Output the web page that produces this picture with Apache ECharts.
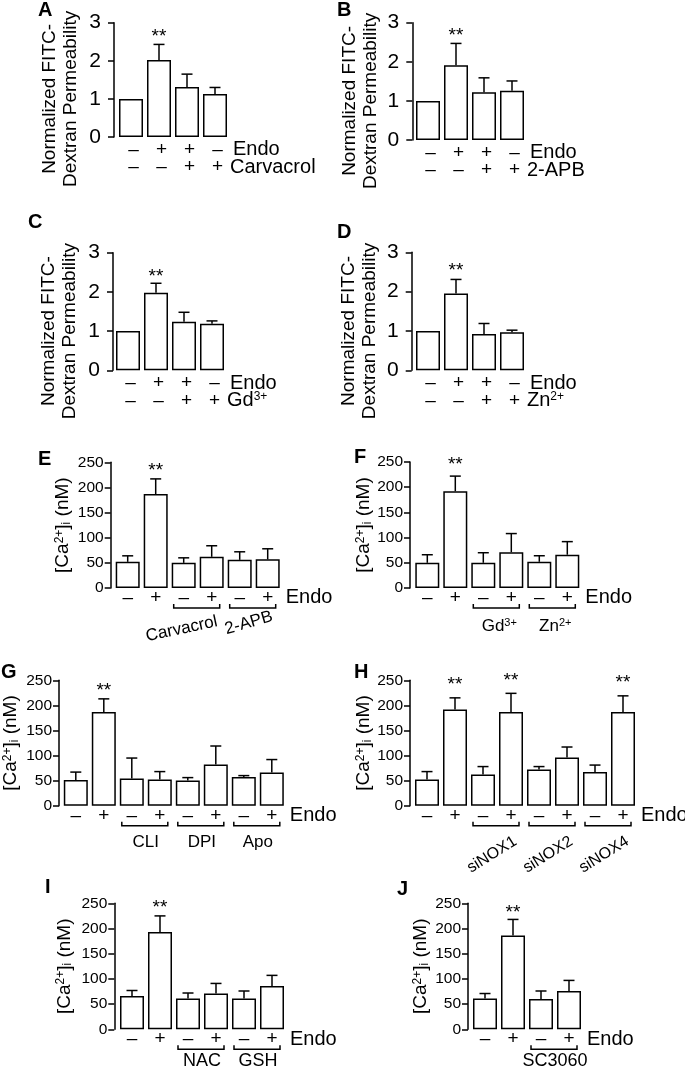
<!DOCTYPE html>
<html><head><meta charset="utf-8">
<script src="https://cdn.jsdelivr.net/npm/echarts@6/dist/echarts.min.js"></script>
<style>html,body{margin:0;padding:0;background:#fff}#c{width:685px;height:1071px}</style>
</head><body><div id="c"></div>
<script>
const FONT = '"Liberation Sans", Arial, Helvetica, sans-serif';

// ---------- tick labels ----------
const permTicks = [0, 1, 2, 3];
const caTicks = [0, 50, 100, 150, 200, 250];

// ---------- Panel A ----------
const A_endo = ['–', '+', '+', '–'];
const A_drug = ['–', '–', '+', '+'];
const A_mean = [1.00, 2.02, 1.31, 1.13];
const A_sem  = [0, 0.41, 0.34, 0.17];
const A_sig  = [1];
// ---------- Panel B ----------
const B_endo = ['–', '+', '+', '–'];
const B_drug = ['–', '–', '+', '+'];
const B_mean = [1.00, 1.91, 1.22, 1.26];
const B_sem  = [0, 0.56, 0.37, 0.25];
const B_sig  = [1];
// ---------- Panel C ----------
const C_endo = ['–', '+', '+', '–'];
const C_drug = ['–', '–', '+', '+'];
const C_mean = [1.00, 1.98, 1.24, 1.19];
const C_sem  = [0, 0.24, 0.24, 0.07];
const C_sig  = [1];
// ---------- Panel D ----------
const D_endo = ['–', '+', '+', '–'];
const D_drug = ['–', '–', '+', '+'];
const D_mean = [1.00, 1.95, 0.92, 0.97];
const D_sem  = [0, 0.36, 0.27, 0.05];
const D_sig  = [1];
// ---------- Panel E ----------
const E_endo = ['–', '+', '–', '+', '–', '+'];
const E_mean = [52, 187, 50, 62, 56, 57];
const E_sem  = [12, 30, 10, 22, 16, 21];
const E_sig  = [1];
const E_groups = ['Carvacrol', '2-APB'];
// ---------- Panel F ----------
const F_endo = ['–', '+', '–', '+', '–', '+'];
const F_mean = [50, 192, 50, 71, 52, 66];
const F_sem  = [16, 30, 20, 37, 12, 26];
const F_sig  = [1];
const F_groups = ['Gd{s|3+}', 'Zn{s|2+}'];
// ---------- Panel G ----------
const G_endo = ['–', '+', '–', '+', '–', '+', '–', '+'];
const G_mean = [51, 187, 54, 52, 50, 82, 57, 66];
const G_sem  = [16, 26, 41, 16, 6, 37, 3, 26];
const G_sig  = [1];
const G_groups = ['CLI', 'DPI', 'Apo'];
// ---------- Panel H ----------
const H_endo = ['–', '+', '–', '+', '–', '+', '–', '+'];
const H_mean = [52, 192, 62, 187, 72, 96, 67, 187];
const H_sem  = [16, 23, 16, 37, 6, 21, 14, 32];
const H_sig  = [1, 3, 7];
const H_groups = ['siNOX1', 'siNOX2', 'siNOX4'];
// ---------- Panel I ----------
const I_endo = ['–', '+', '–', '+', '–', '+'];
const I_mean = [66, 193, 61, 71, 61, 86];
const I_sem  = [11, 32, 11, 20, 15, 21];
const I_sig  = [1];
const I_groups = ['NAC', 'GSH'];
// ---------- Panel J ----------
const J_endo = ['–', '+', '–', '+'];
const J_mean = [61, 186, 60, 76];
const J_sem  = [10, 32, 16, 21];
const J_sig  = [1];
const J_groups = ['SC3060'];

const permTitle = 'Normalized FITC-\nDextran Permeability';
const caTitle = '[Ca{sup|2+}]{sub|i} (nM)';

const panels = [
  {id:'A', kind:'perm', endo:A_endo, drug:A_drug, drugLabel:'Carvacrol', mean:A_mean, sem:A_sem, sig:A_sig},
  {id:'B', kind:'perm', endo:B_endo, drug:B_drug, drugLabel:'2-APB', mean:B_mean, sem:B_sem, sig:B_sig},
  {id:'C', kind:'perm', endo:C_endo, drug:C_drug, drugLabel:'Gd{s|3+}', mean:C_mean, sem:C_sem, sig:C_sig},
  {id:'D', kind:'perm', endo:D_endo, drug:D_drug, drugLabel:'Zn{s|2+}', mean:D_mean, sem:D_sem, sig:D_sig},
  {id:'E', kind:'ca', endo:E_endo, mean:E_mean, sem:E_sem, sig:E_sig, groups:E_groups},
  {id:'F', kind:'ca', endo:F_endo, mean:F_mean, sem:F_sem, sig:F_sig, groups:F_groups},
  {id:'G', kind:'ca', endo:G_endo, mean:G_mean, sem:G_sem, sig:G_sig, groups:G_groups},
  {id:'H', kind:'ca', endo:H_endo, mean:H_mean, sem:H_sem, sig:H_sig, groups:H_groups},
  {id:'I', kind:'ca', endo:I_endo, mean:I_mean, sem:I_sem, sig:I_sig, groups:I_groups},
  {id:'J', kind:'ca', endo:J_endo, mean:J_mean, sem:J_sem, sig:J_sig, groups:J_groups}
];

// ---------- layout (pixels) ----------
const LAYOUT = {
  A:{ax:114,   top:22.7,  y0:137,    off:17,   letter:[38,0],    titleDx:-54, sigGap:12},
  B:{ax:412.3, top:22.7,  y0:140,    off:15.7, letter:[337,0],   titleDx:-52, sigGap:12},
  C:{ax:113,   top:252.7, y0:370.3,  off:15,   letter:[28,212],  titleDx:-54, sigGap:11},
  D:{ax:411.7, top:252.3, y0:370.3,  off:16.3, letter:[337,222], titleDx:-52, sigGap:13},
  E:{ax:110.7, top:462.3, y0:588,    off:17,   letter:[38,449],  titleDx:-48, sigGap:12,
     grp:{size:17, items:[{dx:-16, dy:41, rot:12}, {dx:-5, dy:35, rot:16}]}},
  F:{ax:410,   top:462,   y0:588,    off:17.3, letter:[354,447], titleDx:-46, sigGap:15,
     grp:{size:17, dx:2, dy:38, rot:0}},
  G:{ax:59,    top:680.3, y0:805.7,  off:16.8, letter:[1,662],   titleDx:-48, sigGap:12,
     grp:{size:17, dx:0, dy:37, rot:0}},
  H:{ax:410,   top:680.3, y0:805.7,  off:17,   letter:[354,662], titleDx:-46, sigGap:17,
     grp:{size:16, dx:-5, dy:49, rot:32}},
  I:{ax:114.3, top:903.3, y0:1029.3, off:17.7, letter:[45,877],  titleDx:-50, sigGap:12,
     grp:{size:18, dx:0, dy:32, rot:0}},
  J:{ax:468,   top:903.3, y0:1029.3, off:17,   letter:[397,879], titleDx:-47, sigGap:11,
     grp:{size:18, dx:0, dy:32, rot:0}}
};

const BAND = 28;
const grids = [], xAxes = [], yAxes = [], series = [];

panels.forEach((p, g) => {
  const L = LAYOUT[p.id];
  const n = p.mean.length;
  const ticks = p.kind === 'perm' ? permTicks : caTicks;
  grids.push({left: L.ax + L.off - BAND / 2, top: L.top, width: n * BAND, height: L.y0 - L.top, containLabel: false});
  const cats = p.kind === 'perm' ? p.endo.map((e, i) => e + '\n' + p.drug[i]) : p.endo.slice();
  xAxes.push({
    type: 'category', gridIndex: g, data: cats,
    axisLine: {show: false}, axisTick: {show: false},
    axisLabel: {interval: 0, color: '#000', fontFamily: FONT, fontSize: 19, lineHeight: 17.5,
      margin: p.kind === 'perm' ? 4 : 1, padding: p.kind === 'perm' ? [0, 0, 0, 5] : 0}
  });
  yAxes.push({
    type: 'value', gridIndex: g, min: ticks[0], max: ticks[ticks.length - 1], interval: ticks[1] - ticks[0],
    offset: L.off - BAND / 2,
    axisLine: {show: true, lineStyle: {color: '#000', width: 1.5}},
    axisTick: {show: true, length: 6, lineStyle: {color: '#000', width: 1.5}},
    axisLabel: {color: '#000', fontFamily: FONT, fontSize: p.kind === 'perm' ? 21 : 15.5, margin: p.kind === 'perm' ? 13 : 7},
    splitLine: {show: false}
  });
  series.push({
    type: 'bar', xAxisIndex: g, yAxisIndex: g, data: p.mean, barWidth: 24, silent: true,
    itemStyle: {color: '#fff', borderColor: '#000', borderWidth: 1.5}, animation: false
  });
  const sigSet = new Set(p.sig);
  series.push({
    type: 'custom', xAxisIndex: g, yAxisIndex: g, silent: true, animation: false, z: 5, clip: false,
    data: p.mean.map((m, i) => [i, m, m + p.sem[i], sigSet.has(i) ? 1 : 0]),
    encode: {x: 0, y: [1, 2]},
    renderItem: (params, api) => {
      const i = api.value(0), m = api.value(1), t = api.value(2);
      const a = api.coord([i, m]), b = api.coord([i, t]);
      const ch = [];
      if (t > m) {
        ch.push({type: 'line', shape: {x1: a[0], y1: a[1], x2: b[0], y2: b[1]}, style: {stroke: '#000', lineWidth: 1.5}});
        ch.push({type: 'line', shape: {x1: b[0] - 5.5, y1: b[1], x2: b[0] + 5.5, y2: b[1]}, style: {stroke: '#000', lineWidth: 1.5}});
      }
      if (api.value(3)) {
        ch.push({type: 'text', x: b[0], y: b[1] - L.sigGap + 4,
          style: {text: '**', fill: '#000', fontFamily: FONT, fontSize: 19, align: 'center', verticalAlign: 'middle'}});
      }
      return {type: 'group', children: ch};
    }
  });
});

const chart = echarts.init(document.getElementById('c'));
chart.setOption({animation: false, grid: grids, xAxis: xAxes, yAxis: yAxes, series: series});

// ---------- annotations placed from the chart's own scales ----------
const graphics = [];
const txt = (x, y, text, o) => graphics.push(Object.assign({type: 'text', x: x, y: y, silent: true,
  style: Object.assign({text: text, fill: '#000', fontFamily: FONT}, o.style || {})}, o.el || {}));
const supRich = {s: {fontSize: 11, fontFamily: FONT, verticalAlign: 'top', padding: [0, 0, 6, 0]}};

panels.forEach((p, g) => {
  const L = LAYOUT[p.id];
  const n = p.mean.length;
  const px = (i, v) => chart.convertToPixel({gridIndex: g}, [i, v]);
  const base = px(0, 0);
  const y0 = base[1];
  const axisX = base[0] - L.off;
  const topY = px(0, (p.kind === 'perm' ? permTicks : caTicks).slice(-1)[0])[1];
  const lastX = px(n - 1, 0)[0];
  // panel letter
  txt(L.letter[0], L.letter[1], p.id, {style: {fontSize: 20, fontWeight: 'bold', align: 'left', verticalAlign: 'top'}});
  // row labels
  const rowY = y0 + (p.kind === 'perm' ? 4 : 1) + 8.75;
  txt(lastX + 18, rowY, 'Endo', {style: {fontSize: 20, align: 'left', verticalAlign: 'middle'}});
  if (p.kind === 'perm') {
    txt(lastX + 15, rowY + 17.5, p.drugLabel, {style: {fontSize: 20, align: 'left', verticalAlign: 'middle', rich: {s: {fontSize: 12, fontFamily: FONT, verticalAlign: 'top', padding: [0, 0, 6, 0]}}}});
    // y title
    const cy = px(0, 1)[1];
    txt(axisX + L.titleDx, cy, permTitle, {style: {fontSize: 19, lineHeight: 21, align: 'center', verticalAlign: 'middle'}, el: {rotation: Math.PI / 2}});
  } else {
    const cy = (y0 + topY) / 2;
    txt(axisX + L.titleDx, cy, caTitle, {style: {fontSize: 19, align: 'center', verticalAlign: 'middle',
      rich: {sup: {fontSize: 12, fontFamily: FONT, verticalAlign: 'top', padding: [0, 0, 6, 0]},
             sub: {fontSize: 12, fontFamily: FONT, verticalAlign: 'bottom', padding: [4, 0, 0, 0]}}}, el: {rotation: Math.PI / 2}});
    // brackets + group labels
    p.groups.forEach((label, k) => {
      const s = 2 + 2 * k;
      const x1 = px(s, 0)[0], x2 = px(s + 1, 0)[0];
      const yb = y0 + 20;
      graphics.push({type: 'polyline', silent: true,
        shape: {points: [[x1 - 10, yb - 4], [x1 - 10, yb], [x2 + 8, yb], [x2 + 8, yb - 4]]},
        style: {stroke: '#000', lineWidth: 1.5, fill: null}});
      const gs = L.grp.items ? L.grp.items[k] : L.grp;
      txt((x1 + x2) / 2 + gs.dx, y0 + gs.dy, label, {
        style: {fontSize: L.grp.size, align: 'center', verticalAlign: 'middle', rich: supRich},
        el: {rotation: gs.rot * Math.PI / 180}});
    });
  }
});
chart.setOption({graphic: {elements: graphics}});
</script>
</body></html>
